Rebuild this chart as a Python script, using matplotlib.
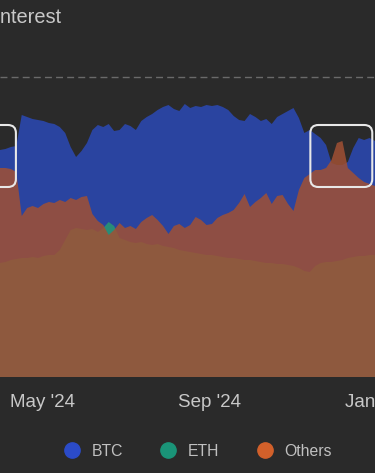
import matplotlib
matplotlib.use('Agg')
import matplotlib.pyplot as plt
import matplotlib.dates as mdates
from matplotlib.lines import Line2D
from matplotlib.patches import FancyBboxPatch
from matplotlib.transforms import IdentityTransform
import pandas as pd

plt.rcParams['font.family'] = ['Liberation Sans', 'DejaVu Sans']

# open interest, $B, one reading every 4 days
dates = pd.date_range('2024-03-31', periods=70, freq='4D')
btc = [22.7, 22.8, 23.0, 23.1, 26.2, 26.0, 25.8, 25.7, 25.6, 25.4,
       25.3, 25.0, 24.4, 23.0, 22.0, 22.6, 23.4, 24.7, 25.2, 25.0,
       25.3, 24.6, 24.7, 25.3, 25.1, 24.7, 25.6, 26.0, 26.3, 26.7,
       27.0, 27.2, 26.8, 26.6, 27.3, 26.9, 27.1, 27.0, 27.2, 27.1,
       27.2, 27.0, 26.7, 26.1, 25.7, 25.6, 26.3, 26.0, 25.6, 25.8,
       25.3, 26.0, 26.3, 26.6, 26.9, 25.9, 24.4, 24.7, 24.3, 23.9,
       23.2, 21.4, 21.2, 21.2, 21.5, 22.9, 23.9, 23.7, 23.9, 23.6]
eth = [11.4, 11.5, 11.7, 11.8, 11.9, 11.9, 12.0, 11.9, 12.1, 12.2,
       12.2, 12.7, 13.7, 14.7, 14.9, 14.8, 14.7, 14.8, 14.5, 14.9,
       15.5, 15.1, 13.9, 13.7, 13.5, 13.4, 13.5, 13.3, 13.2, 13.3,
       13.1, 13.0, 12.9, 12.7, 12.6, 12.5, 12.4, 12.3, 12.2, 12.2,
       12.1, 12.0, 11.9, 11.9, 11.8, 11.7, 11.7, 11.6, 11.5, 11.4,
       11.4, 11.3, 11.3, 11.2, 11.1, 10.9, 10.6, 10.5, 11.1, 11.4,
       11.5, 11.5, 11.6, 11.7, 11.9, 12.0, 12.1, 12.1, 12.2, 12.2]
others = [20.9, 20.9, 20.8, 20.5, 16.1, 16.9, 17.1, 16.9, 17.3, 17.5,
          17.4, 17.7, 17.5, 17.9, 17.7, 18.0, 18.1, 16.3, 15.6, 15.2,
          14.2, 14.7, 15.4, 14.9, 15.1, 14.8, 15.5, 15.9, 16.2, 15.7,
          15.1, 14.3, 15.1, 15.3, 14.9, 15.2, 16.0, 15.7, 15.2, 15.3,
          15.9, 16.2, 16.4, 16.7, 17.4, 18.3, 17.0, 17.5, 17.9, 18.4,
          17.3, 18.1, 18.2, 17.3, 16.6, 18.7, 19.9, 20.3, 20.7, 20.7,
          20.9, 21.7, 23.4, 23.6, 20.9, 20.4, 19.9, 19.5, 19.3, 19.1]

tick_dates = ['2024-05-01', '2024-09-01', '2025-01-01']
tick_labels = ["May '24", "Sep '24", "Jan '25"]
series_names = ['BTC', 'ETH', 'Others']
legend_colors = ['#2b4bc8', '#1a9478', '#d2602a']

# highlighted windows
highlights = [('2024-02-26', '2024-04-11 17:00'), ('2024-11-14 10:00', '2024-12-30')]
box_low, box_high = 19.0, 25.2

bg = '#2a2a2a'
txt = '#c8c8c8'

fig = plt.figure(figsize=(3.75, 4.73), dpi=100, facecolor=bg)
ax = fig.add_axes([0, 96 / 473, 1, 317 / 473])
ax.set_facecolor(bg)

ax.axhline(30, color='#6a6a6a', lw=1, ls=(0, (5, 3)), zorder=0)
ax.fill_between(dates, 0, btc, color='#2a44a0', lw=0, zorder=1)
ax.fill_between(dates, 0, eth, color='#288c78', lw=0, zorder=2)
ax.fill_between(dates, 0, others, color='#a15034', alpha=0.85, lw=0, zorder=3)

ax.set_xlim(pd.Timestamp('2024-03-31'), pd.Timestamp('2024-12-30 12:00'))
ax.set_ylim(0, 31.7)
for s in ax.spines.values():
    s.set_visible(False)
ax.set_yticks([])
ax.set_xticks(pd.to_datetime(tick_dates))
ax.set_xticklabels(tick_labels)
ax.tick_params(axis='x', length=0, pad=12, labelsize=13.5, colors=txt)

# rounded highlight boxes, drawn in pixel space so corners stay round
for start, end in highlights:
    x0, y0 = ax.transData.transform((mdates.date2num(pd.Timestamp(start)), box_low))
    x1, y1 = ax.transData.transform((mdates.date2num(pd.Timestamp(end)), box_high))
    box = FancyBboxPatch((x0, y0), x1 - x0, y1 - y0,
                         boxstyle='round,pad=0,rounding_size=8',
                         fill=False, edgecolor='#e8e8e8', lw=1.5,
                         transform=IdentityTransform(), zorder=5)
    fig.add_artist(box)

fig.text(-60 / 375, 1 - 23 / 473, 'Open Interest', fontsize=14.4, color=txt,
         ha='left', va='baseline')

handles = [Line2D([], [], marker='o', ls='none', markersize=11,
                  markerfacecolor=c, markeredgecolor=c) for c in legend_colors]
fig.legend(handles, series_names, loc='center', bbox_to_anchor=(198 / 375, 1 - 451 / 473),
           ncol=3, frameon=False, fontsize=11.3, labelcolor='#c0c0c0',
           handlelength=1.0, handletextpad=0.77, columnspacing=2.37,
           borderpad=0, borderaxespad=0)

fig.savefig('out.png', dpi=100, facecolor=bg)
